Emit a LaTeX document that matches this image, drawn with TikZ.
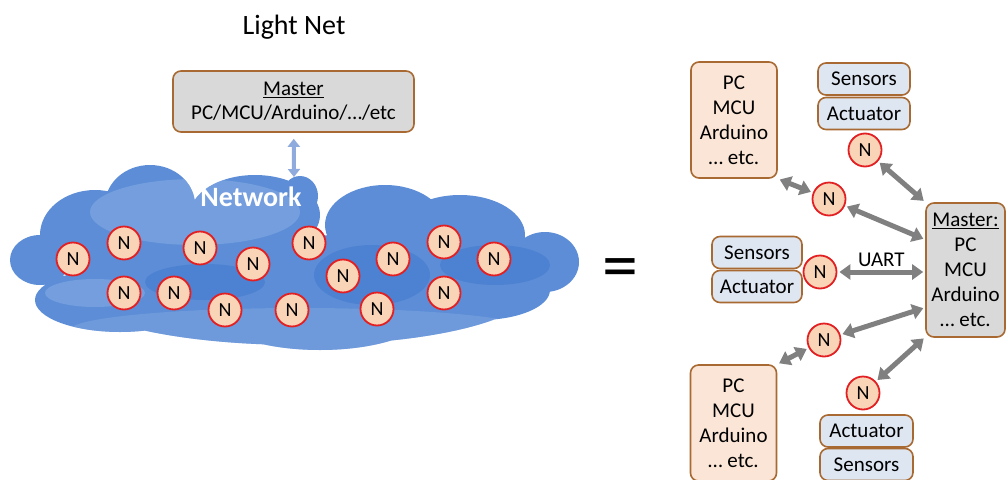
\documentclass[tikz,border=0pt]{standalone}
\usepackage{fontspec}
\setmainfont{Carlito}
\usetikzlibrary{arrows.meta,positioning}
\definecolor{boxborder}{RGB}{168,106,50}
\definecolor{nodered}{RGB}{226,32,36}
\definecolor{nodefill}{RGB}{249,212,183}
\definecolor{pcfill}{RGB}{251,229,214}
\definecolor{iofill}{RGB}{222,230,242}
\definecolor{masterfill}{RGB}{217,217,217}
\definecolor{linkgrey}{RGB}{128,128,128}
\definecolor{netarrow}{RGB}{143,170,220}
\definecolor{cloudblue}{RGB}{92,141,214}
\definecolor{cloudlight}{RGB}{132,170,228}
\definecolor{clouddark}{RGB}{72,124,207}
\newcommand{\cloudpath}{(40,260) ellipse [x radius=30pt, y radius=25pt]
  (95,235) ellipse [x radius=55pt, y radius=45pt]
  (150,205) ellipse [x radius=45pt, y radius=40pt]
  (180,250) ellipse [x radius=60pt, y radius=30pt]
  (255,215) ellipse [x radius=65pt, y radius=40pt]
  (300,196) ellipse [x radius=18pt, y radius=20pt]
  (385,225) ellipse [x radius=60pt, y radius=40pt]
  (460,235) ellipse [x radius=65pt, y radius=40pt]
  (545,262) ellipse [x radius=34pt, y radius=30pt]
  (300,290) ellipse [x radius=230pt, y radius=55pt]
  (120,300) ellipse [x radius=85pt, y radius=32pt]
  (320,310) ellipse [x radius=110pt, y radius=40pt]
  (480,290) ellipse [x radius=70pt, y radius=30pt]}
\begin{document}
\begin{tikzpicture}[x=1pt, y=-1pt,
  n node/.style={circle,draw=nodered,line width=1.8pt,fill=nodefill,minimum size=33pt,inner sep=0pt,font=\fontsize{20}{20}\selectfont},
  pc box/.style={rectangle,rounded corners=8pt,draw=boxborder,line width=1.6pt,fill=pcfill,align=center,minimum width=86pt,minimum height=116pt,inner sep=0pt,font=\fontsize{21}{25}\selectfont},
  io box/.style={pc box,fill=iofill,minimum height=32pt},
  master box/.style={pc box,fill=masterfill},
  link/.style={draw=linkgrey,line width=5pt,{Triangle[width=15pt,length=11pt]}-{Triangle[width=15pt,length=11pt]},shorten <=2pt,shorten >=2pt},
  netlink/.style={draw=netarrow,line width=4pt,{Triangle[width=12pt,length=8pt]}-{Triangle[width=12pt,length=8pt]},shorten <=6pt}]
\useasboundingbox (0,0) rectangle (1006,479);
% cloud
\begin{scope}
\fill[cloudblue] \cloudpath;
\clip \cloudpath;
\fill[cloudlight,opacity=.6] (195,212) ellipse [x radius=105pt, y radius=33pt]
  (95,293) ellipse [x radius=50pt, y radius=14pt];
\fill[cloudlight,opacity=.45] (300,330) ellipse [x radius=230pt, y radius=22pt];
\fill[clouddark,opacity=.7] (205,282) ellipse [x radius=60pt, y radius=18pt]
  (495,265) ellipse [x radius=55pt, y radius=20pt]
  (372,275) ellipse [x radius=58pt, y radius=30pt];
\end{scope}
\node[font=\fontsize{28}{28}\selectfont\bfseries,text=white] (netLabel) at (251,197) {Network};
\coordinate (netTop) at (294,177);

\node[font=\fontsize{28}{28}\selectfont] (title) at (294,27) {Light Net};
\node[master box,minimum width=241pt,minimum height=61pt,font=\fontsize{21}{24}\selectfont] (lnMaster) at (293.5,101.5) {\underline{Master}\\PC/MCU/Arduino/…/etc};
\draw[netlink] (lnMaster) -- (netTop);

\begin{scope}[every node/.style={n node}]
\node (c1) at (73,259) {N};
\node (c2) at (124,243) {N};
\node (c3) at (200,248) {N};
\node (c4) at (253,264) {N};
\node (c5) at (124,293) {N};
\node (c6) at (174,293) {N};
\node (c7) at (225,310) {N};
\node (c8) at (292,310) {N};
\node (c9) at (309,243) {N};
\node (c10) at (343,276) {N};
\node (c11) at (393,259) {N};
\node (c12) at (377,309) {N};
\node (c13) at (444,242) {N};
\node (c14) at (444,293) {N};
\node (c15) at (494,259) {N};
\end{scope}

\node[font=\fontsize{72}{72}\selectfont,anchor=base] (eq) at (620,289) {=};

% right side
\node[pc box] (pcA) at (734,120) {PC\\MCU\\Arduino\\… etc.};
\node[pc box] (pcB) at (733.5,423) {PC\\MCU\\Arduino\\… etc.};
\node[io box,minimum width=92pt] (senT) at (864,79) {Sensors};
\node[io box,minimum width=92pt] (actT) at (864,113.5) {Actuator};
\node[io box,minimum width=90pt] (senL) at (757,252.5) {Sensors};
\node[io box,minimum width=90pt] (actL) at (757,286.5) {Actuator};
\node[io box,minimum width=93pt] (actB) at (866.5,431) {Actuator};
\node[io box,minimum width=93pt] (senB) at (866.5,464.5) {Sensors};
\node[master box,minimum width=79pt,minimum height=134pt] (master) at (965.5,270) {\underline{Master:}\\PC\\MCU\\Arduino\\… etc.};
\begin{scope}[every node/.style={n node}]
\node (nT) at (865,150) {N};
\node (nA) at (829,199) {N};
\node (nL) at (820,272) {N};
\node (nB) at (824,340) {N};
\node (nD) at (863,393) {N};
\end{scope}
\begin{scope}[every edge/.style={link}]
\draw (nT) edge (master.north west);
\draw (pcA.south east) edge (nA);
\draw (nA) edge (master.143);
\draw (nL) edge node[above,text=black,font=\fontsize{21}{21}\selectfont]{UART} (nL -| master.west);
\draw (nB) edge (master.223);
\draw (pcB.north east) edge (nB);
\draw (nD) edge (master.239);
\end{scope}
\end{tikzpicture}
\end{document}
